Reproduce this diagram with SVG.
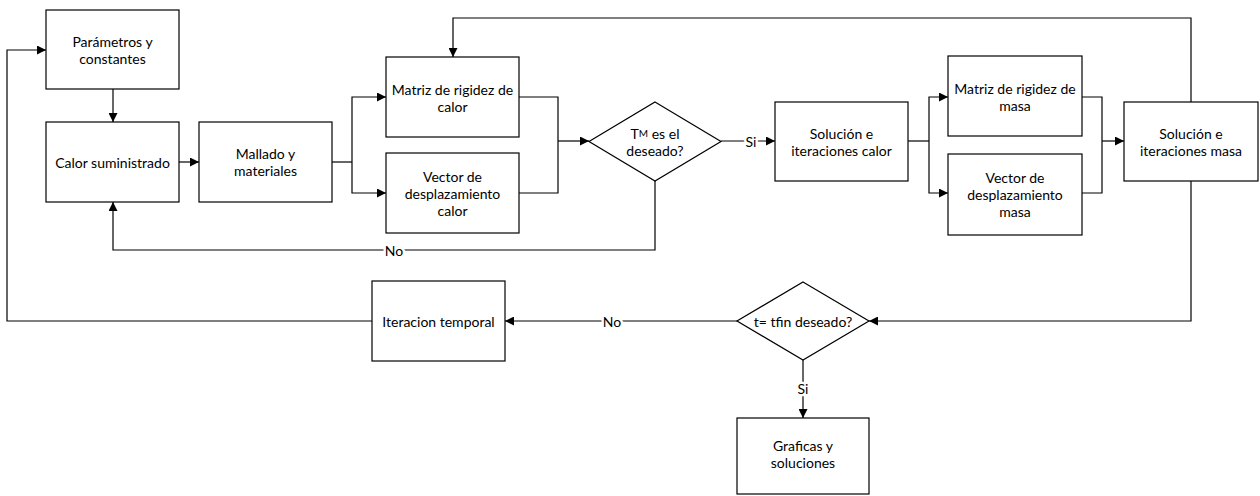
<svg xmlns="http://www.w3.org/2000/svg" width="1260" height="496" viewBox="0 0 1260 496">
  <style>
    .box { fill: #fff; stroke: #000; stroke-width: 1.2; }
    .t { font-family: Lato, "Open Sans", sans-serif; font-size: 14px; fill: #000; text-anchor: middle; dominant-baseline: central; }
    .edge { fill: none; stroke: #000; stroke-width: 1.2; }
    .arr { marker-end: url(#head); }
    .lbl { font-family: Lato, "Open Sans", sans-serif; font-size: 14px; fill: #000; text-anchor: middle; dominant-baseline: central; paint-order: stroke; stroke: #fff; stroke-width: 5px; }
  </style>
  <defs>
    <marker id="head" viewBox="0 0 10 10" refX="10" refY="5" markerWidth="9" markerHeight="9" markerUnits="userSpaceOnUse" orient="auto">
      <path d="M0,0 L10,5 L0,10 z" fill="#000"/>
    </marker>
  </defs>
  <rect width="1260" height="496" fill="#fff"/>

  <g id="connectors">
    <path class="edge arr" d="M372,321 H7 V50 H46"/>
    <path class="edge arr" d="M113,89 V122"/>
    <path class="edge arr" d="M179,162 H199"/>
    <path class="edge" d="M332,162 H352"/>
    <path class="edge arr" d="M352,162 V97 H386"/>
    <path class="edge arr" d="M352,162 V193 H386"/>
    <path class="edge" d="M519,97 H558 V193 H519"/>
    <path class="edge arr" d="M558,141 H589"/>
    <path class="edge arr" d="M655,181 V250 H113 V202"/>
    <path class="edge arr" d="M721,141 H775"/>
    <path class="edge" d="M908,141 H929"/>
    <path class="edge arr" d="M929,141 V97 H948"/>
    <path class="edge arr" d="M929,141 V193 H948"/>
    <path class="edge" d="M1082,97 H1102 V193 H1082"/>
    <path class="edge arr" d="M1102,141 H1124"/>
    <path class="edge arr" d="M1191,102 V18 H453 V57"/>
    <path class="edge arr" d="M1191,181 V321 H869"/>
    <path class="edge arr" d="M737,321 H505"/>
    <path class="edge arr" d="M803,360 V418"/>
    <text class="lbl" x="394" y="250">No</text>
    <text class="lbl" x="751" y="141">Si</text>
    <text class="lbl" x="612" y="321">No</text>
    <text class="lbl" x="803" y="388">Si</text>
  </g>

  <g id="parametros">
    <rect class="box" x="46" y="10" width="133" height="79"/>
    <text class="t" x="112.5" y="41">Parámetros y</text>
    <text class="t" x="112.5" y="58">constantes</text>
  </g>
  <g id="calor-suministrado">
    <rect class="box" x="46" y="122" width="133" height="80"/>
    <text class="t" x="112.5" y="162">Calor suministrado</text>
  </g>
  <g id="mallado">
    <rect class="box" x="199" y="122" width="133" height="80"/>
    <text class="t" x="265.5" y="153.5">Mallado y</text>
    <text class="t" x="265.5" y="170.5">materiales</text>
  </g>
  <g id="matriz-calor">
    <rect class="box" x="386" y="57" width="133" height="80"/>
    <text class="t" x="452.5" y="89">Matriz de rigidez de</text>
    <text class="t" x="452.5" y="106">calor</text>
  </g>
  <g id="vector-calor">
    <rect class="box" x="386" y="153" width="133" height="80"/>
    <text class="t" x="452.5" y="176">Vector de</text>
    <text class="t" x="452.5" y="193">desplazamiento</text>
    <text class="t" x="452.5" y="210">calor</text>
  </g>
  <g id="decision-tm">
    <polygon class="box" points="655,102 721,141.5 655,181 589,141.5"/>
    <text class="t" x="655" y="133">T<tspan font-size="10px">M</tspan> es el</text>
    <text class="t" x="655" y="150">deseado?</text>
  </g>
  <g id="solucion-calor">
    <rect class="box" x="775" y="102" width="133" height="79"/>
    <text class="t" x="841.5" y="133">Solución e</text>
    <text class="t" x="841.5" y="150">iteraciones calor</text>
  </g>
  <g id="matriz-masa">
    <rect class="box" x="948" y="56" width="134" height="80"/>
    <text class="t" x="1015" y="88">Matriz de rigidez de</text>
    <text class="t" x="1015" y="105">masa</text>
  </g>
  <g id="vector-masa">
    <rect class="box" x="948" y="154" width="134" height="81"/>
    <text class="t" x="1015" y="177">Vector de</text>
    <text class="t" x="1015" y="194">desplazamiento</text>
    <text class="t" x="1015" y="211">masa</text>
  </g>
  <g id="solucion-masa">
    <rect class="box" x="1124" y="102" width="134" height="79"/>
    <text class="t" x="1191" y="133">Solución e</text>
    <text class="t" x="1191" y="150">iteraciones masa</text>
  </g>
  <g id="decision-tfin">
    <polygon class="box" points="803,282 869,321 803,360 737,321"/>
    <text class="t" x="803" y="321">t= tfin deseado?</text>
  </g>
  <g id="iteracion-temporal">
    <rect class="box" x="372" y="281" width="133" height="80"/>
    <text class="t" x="438.5" y="321">Iteracion temporal</text>
  </g>
  <g id="graficas">
    <rect class="box" x="737" y="418" width="132" height="76"/>
    <text class="t" x="803" y="445">Graficas y</text>
    <text class="t" x="803" y="462">soluciones</text>
  </g>
</svg>
